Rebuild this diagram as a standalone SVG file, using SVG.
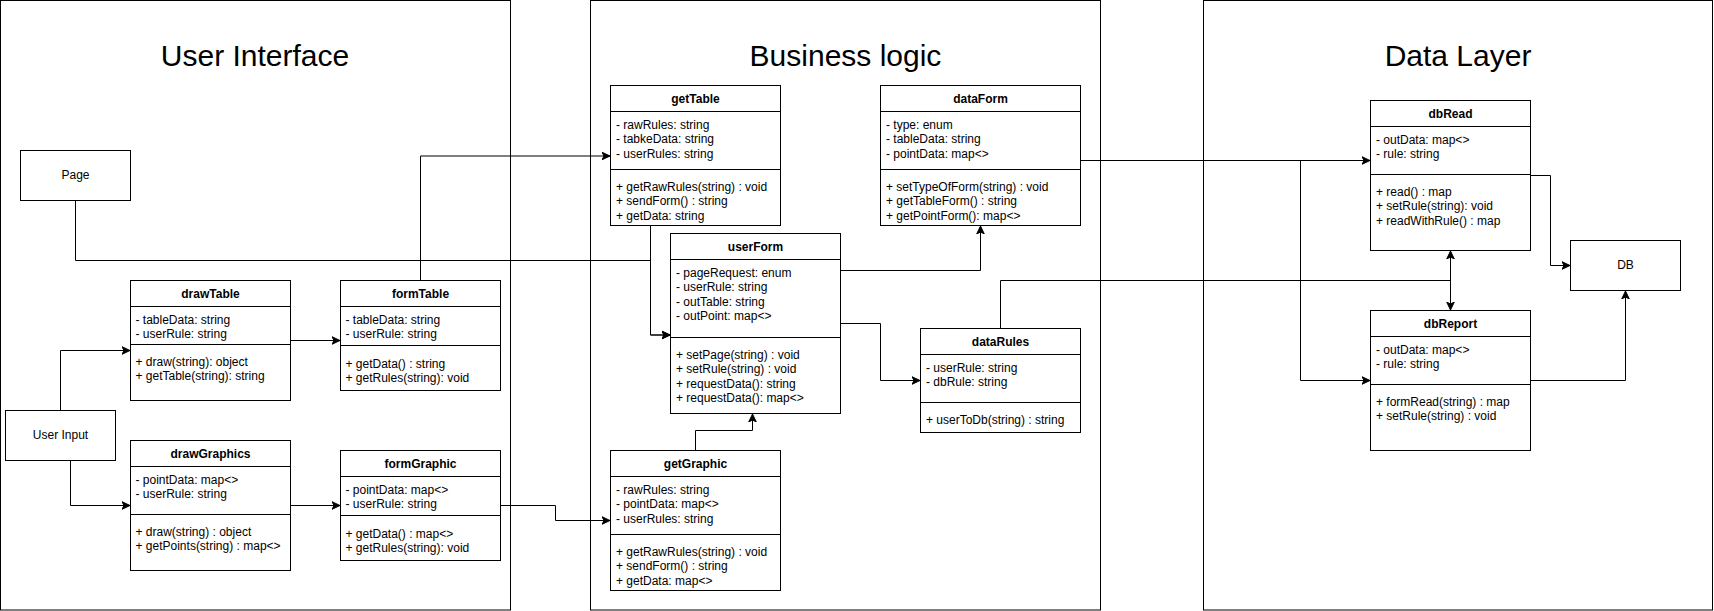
<svg xmlns="http://www.w3.org/2000/svg" width="1714" height="611" viewBox="0 0 1714 611">
<style>
  .frame { fill: #ffffff; stroke: #000000; stroke-width: 1; }
  .box { fill: #ffffff; stroke: #000000; stroke-width: 1; }
  .sep { stroke: #000000; stroke-width: 1; fill: none; }
  .edge { fill: none; stroke: #000000; stroke-width: 1; }
  .title { font-family: "Liberation Sans", Arial, sans-serif; font-size: 30px; fill: #000000; text-anchor: middle; }
  .hdr { font-family: "Liberation Sans", Arial, sans-serif; font-size: 12px; font-weight: bold; fill: #000000; text-anchor: middle; }
  .txt { font-family: "Liberation Sans", Arial, sans-serif; font-size: 12px; fill: #000000; }
  .ctr { font-family: "Liberation Sans", Arial, sans-serif; font-size: 12px; fill: #000000; text-anchor: middle; }
</style>
<defs>
  <marker id="arr" markerUnits="userSpaceOnUse" markerWidth="10" markerHeight="10" viewBox="0 0 10 10" refX="8" refY="5" orient="auto">
    <path d="M0,1.2 L8,5 L0,8.8 L2,5 Z" fill="#000000" stroke="#000000" stroke-width="1"/>
  </marker>
  <marker id="arrs" markerUnits="userSpaceOnUse" markerWidth="10" markerHeight="10" viewBox="0 0 10 10" refX="8" refY="5" orient="auto-start-reverse">
    <path d="M0,1.2 L8,5 L0,8.8 L2,5 Z" fill="#000000" stroke="#000000" stroke-width="1"/>
  </marker>
</defs>

<g id="frames">
  <g id="frame-ui">
    <rect class="frame" x="0.5" y="0.5" width="510" height="609.5"/>
    <text class="title" x="255" y="65.5">User Interface</text>
  </g>
  <g id="frame-bl">
    <rect class="frame" x="590.5" y="0.5" width="510" height="609.5"/>
    <text class="title" x="845.5" y="65.5">Business logic</text>
  </g>
  <g id="frame-dl">
    <rect class="frame" x="1203.5" y="0.5" width="509" height="609.5"/>
    <text class="title" x="1458" y="65.5">Data Layer</text>
  </g>
</g>

<g id="connectors">
  <path class="edge" d="M75.5,200.5 V260.5 H650.5 V335 H670" marker-end="url(#arr)"/>
  <path class="edge" d="M650.5,225.5 V335 H670" marker-end="url(#arr)"/>
  <path class="edge" d="M420.5,280.5 V156 H610" marker-end="url(#arr)"/>
  <path class="edge" d="M60.5,410.5 V350.5 H130" marker-end="url(#arr)"/>
  <path class="edge" d="M70.5,460.5 V505.5 H130" marker-end="url(#arr)"/>
  <path class="edge" d="M290.5,340.5 H340" marker-end="url(#arr)"/>
  <path class="edge" d="M290.5,505.5 H340" marker-end="url(#arr)"/>
  <path class="edge" d="M500.5,505.5 H555.5 V520.5 H610" marker-end="url(#arr)"/>
  <path class="edge" d="M695.5,450.5 V430.5 H752.5 V414" marker-end="url(#arr)"/>
  <path class="edge" d="M840.5,270.5 H980.5 V226" marker-end="url(#arr)"/>
  <path class="edge" d="M840.5,323.5 H880.5 V380.5 H920" marker-end="url(#arr)"/>
  <path class="edge" d="M1080.5,160.5 H1370" marker-end="url(#arr)"/>
  <path class="edge" d="M1300.5,160.5 V380.5 H1370" marker-end="url(#arr)"/>
  <path class="edge" d="M1530.5,175.5 H1550.5 V265.5 H1570" marker-end="url(#arr)"/>
  <path class="edge" d="M1530.5,380.5 H1625.5 V291" marker-end="url(#arr)"/>
  <path class="edge" d="M1450.5,251 V310" marker-start="url(#arrs)" marker-end="url(#arr)"/>
  <path class="edge" d="M1000.5,328.5 V280.5 H1450.5"/>
</g>

<g id="page">
  <rect class="box" x="20.5" y="150.5" width="110" height="50"/>
  <text class="ctr" x="75.5" y="179">Page</text>
</g>
<g id="user-input">
  <rect class="box" x="5.5" y="410.5" width="110" height="50"/>
  <text class="ctr" x="60.5" y="439">User Input</text>
</g>
<g id="db">
  <rect class="box" x="1570.5" y="240.5" width="110" height="50"/>
  <text class="ctr" x="1625.5" y="269">DB</text>
</g>

<g id="drawTable">
  <rect class="box" x="130.5" y="280.5" width="160" height="120"/>
  <path class="sep" d="M130.5,306.5 H290.5 M130.5,344.5 H290.5"/>
  <text class="hdr" x="210.5" y="298">drawTable</text>
  <text class="txt" x="135.5" y="324">- tableData: string</text>
  <text class="txt" x="135.5" y="338">- userRule: string</text>
  <text class="txt" x="135.5" y="366">+ draw(string): object</text>
  <text class="txt" x="135.5" y="380">+ getTable(string): string</text>
</g>

<g id="formTable">
  <rect class="box" x="340.5" y="280.5" width="160" height="110"/>
  <path class="sep" d="M340.5,306.5 H500.5 M340.5,345.5 H500.5"/>
  <text class="hdr" x="420.5" y="298">formTable</text>
  <text class="txt" x="345.5" y="324">- tableData: string</text>
  <text class="txt" x="345.5" y="338">- userRule: string</text>
  <text class="txt" x="345.5" y="368">+ getData() : string</text>
  <text class="txt" x="345.5" y="382">+ getRules(string): void</text>
</g>

<g id="drawGraphics">
  <rect class="box" x="130.5" y="440.5" width="160" height="130"/>
  <path class="sep" d="M130.5,466.5 H290.5 M130.5,514.5 H290.5"/>
  <text class="hdr" x="210.5" y="458">drawGraphics</text>
  <text class="txt" x="135.5" y="484">- pointData: map&lt;&gt;</text>
  <text class="txt" x="135.5" y="498">- userRule: string</text>
  <text class="txt" x="135.5" y="536">+ draw(string) : object</text>
  <text class="txt" x="135.5" y="550">+ getPoints(string) : map&lt;&gt;</text>
</g>

<g id="formGraphic">
  <rect class="box" x="340.5" y="450.5" width="160" height="110"/>
  <path class="sep" d="M340.5,476.5 H500.5 M340.5,515.5 H500.5"/>
  <text class="hdr" x="420.5" y="468">formGraphic</text>
  <text class="txt" x="345.5" y="494">- pointData: map&lt;&gt;</text>
  <text class="txt" x="345.5" y="508">- userRule: string</text>
  <text class="txt" x="345.5" y="538">+ getData() : map&lt;&gt;</text>
  <text class="txt" x="345.5" y="552">+ getRules(string): void</text>
</g>

<g id="getTable">
  <rect class="box" x="610.5" y="85.5" width="170" height="140"/>
  <path class="sep" d="M610.5,111.5 H780.5 M610.5,169.5 H780.5"/>
  <text class="hdr" x="695.5" y="103">getTable</text>
  <text class="txt" x="616" y="128.5">- rawRules: string</text>
  <text class="txt" x="616" y="143">- tabkeData: string</text>
  <text class="txt" x="616" y="157.5">- userRules: string</text>
  <text class="txt" x="616" y="190.5">+ getRawRules(string) : void</text>
  <text class="txt" x="616" y="205">+ sendForm() : string</text>
  <text class="txt" x="616" y="219.5">+ getData: string</text>
</g>

<g id="dataForm">
  <rect class="box" x="880.5" y="85.5" width="200" height="140"/>
  <path class="sep" d="M880.5,111.5 H1080.5 M880.5,169.5 H1080.5"/>
  <text class="hdr" x="980.5" y="103">dataForm</text>
  <text class="txt" x="886" y="128.5">- type: enum</text>
  <text class="txt" x="886" y="143">- tableData: string</text>
  <text class="txt" x="886" y="157.5">- pointData: map&lt;&gt;</text>
  <text class="txt" x="886" y="190.5">+ setTypeOfForm(string) : void</text>
  <text class="txt" x="886" y="205">+ getTableForm() : string</text>
  <text class="txt" x="886" y="219.5">+ getPointForm(): map&lt;&gt;</text>
</g>

<g id="userForm">
  <rect class="box" x="670.5" y="233.5" width="170" height="180"/>
  <path class="sep" d="M670.5,259.5 H840.5 M670.5,337.5 H840.5"/>
  <text class="hdr" x="755.5" y="251">userForm</text>
  <text class="txt" x="676" y="276.5">- pageRequest: enum</text>
  <text class="txt" x="676" y="291">- userRule: string</text>
  <text class="txt" x="676" y="305.5">- outTable: string</text>
  <text class="txt" x="676" y="320">- outPoint: map&lt;&gt;</text>
  <text class="txt" x="676" y="358.5">+ setPage(string) : void</text>
  <text class="txt" x="676" y="373">+ setRule(string) : void</text>
  <text class="txt" x="676" y="387.5">+ requestData(): string</text>
  <text class="txt" x="676" y="402">+ requestData(): map&lt;&gt;</text>
</g>

<g id="dataRules">
  <rect class="box" x="920.5" y="328.5" width="160" height="104"/>
  <path class="sep" d="M920.5,354.5 H1080.5 M920.5,402.5 H1080.5"/>
  <text class="hdr" x="1000.5" y="346">dataRules</text>
  <text class="txt" x="926" y="372">- userRule: string</text>
  <text class="txt" x="926" y="386">- dbRule: string</text>
  <text class="txt" x="926" y="423.5">+ userToDb(string) : string</text>
</g>

<g id="getGraphic">
  <rect class="box" x="610.5" y="450.5" width="170" height="140"/>
  <path class="sep" d="M610.5,476.5 H780.5 M610.5,534.5 H780.5"/>
  <text class="hdr" x="695.5" y="468">getGraphic</text>
  <text class="txt" x="616" y="494">- rawRules: string</text>
  <text class="txt" x="616" y="507.5">- pointData: map&lt;&gt;</text>
  <text class="txt" x="616" y="523">- userRules: string</text>
  <text class="txt" x="616" y="555.5">+ getRawRules(string) : void</text>
  <text class="txt" x="616" y="570">+ sendForm() : string</text>
  <text class="txt" x="616" y="584.5">+ getData: map&lt;&gt;</text>
</g>

<g id="dbRead">
  <rect class="box" x="1370.5" y="100.5" width="160" height="150"/>
  <path class="sep" d="M1370.5,126.5 H1530.5 M1370.5,174.5 H1530.5"/>
  <text class="hdr" x="1450.5" y="118">dbRead</text>
  <text class="txt" x="1376" y="144">- outData: map&lt;&gt;</text>
  <text class="txt" x="1376" y="158">- rule: string</text>
  <text class="txt" x="1376" y="196">+ read() : map</text>
  <text class="txt" x="1376" y="210">+ setRule(string): void</text>
  <text class="txt" x="1376" y="224.5">+ readWithRule() : map</text>
</g>

<g id="dbReport">
  <rect class="box" x="1370.5" y="310.5" width="160" height="140"/>
  <path class="sep" d="M1370.5,336.5 H1530.5 M1370.5,384.5 H1530.5"/>
  <text class="hdr" x="1450.5" y="328">dbReport</text>
  <text class="txt" x="1376" y="354">- outData: map&lt;&gt;</text>
  <text class="txt" x="1376" y="368">- rule: string</text>
  <text class="txt" x="1376" y="406">+ formRead(string) : map</text>
  <text class="txt" x="1376" y="420">+ setRule(string) : void</text>
</g>
</svg>
